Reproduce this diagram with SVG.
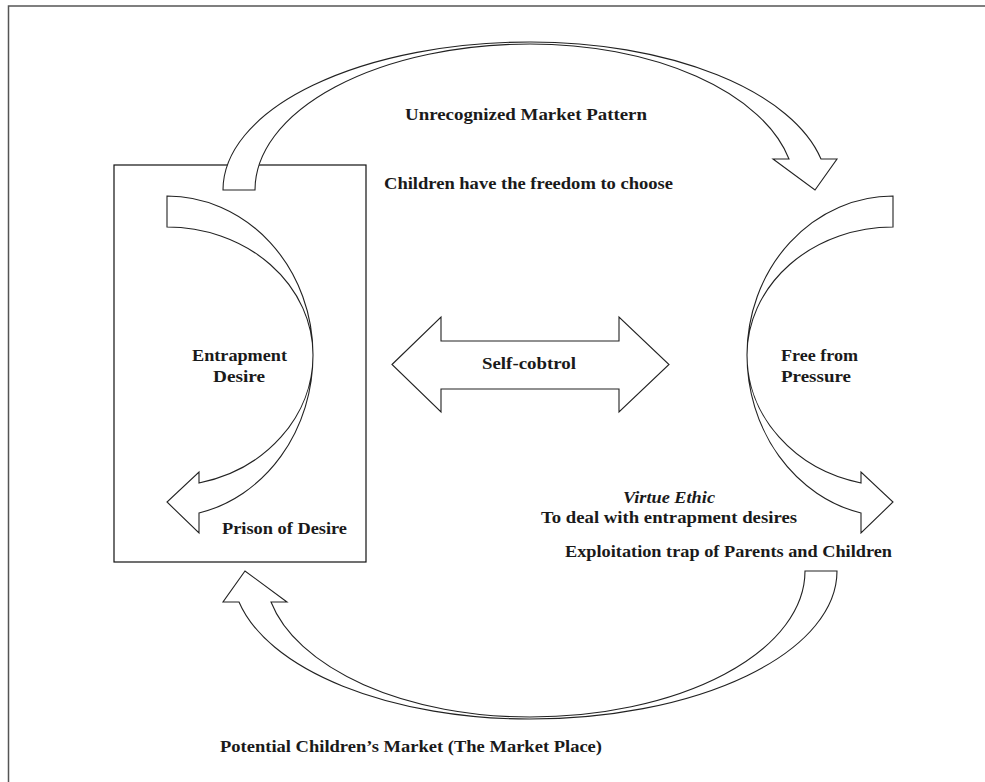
<svg xmlns="http://www.w3.org/2000/svg" width="985" height="782" viewBox="0 0 985 782">
  <style>
    .shape { fill: #ffffff; stroke: #222222; stroke-width: 1.1; stroke-linejoin: miter; }
    .frame { fill: none; stroke: #555555; stroke-width: 1.5; }
    .box { fill: none; stroke: #111111; stroke-width: 1.2; }
    .lbl { font-family: "Liberation Serif", "DejaVu Serif", serif; font-weight: bold; font-size: 17px; fill: #1a1a1a; }
    .it { font-style: italic; }
  </style>
  <rect x="0" y="0" width="985" height="782" fill="#ffffff"/>
  <g id="frame">
    <path class="frame" d="M8.5,790 L8.5,6 L990,6"/>
  </g>
  <g id="prison-box">
    <rect class="box" x="114" y="165" width="252" height="397"/>
  </g>
  <g id="connectors">
    <path id="unrecognized-arrow" class="shape" d="M223,190 A307,148 0 0 1 530,42 A297,148 0 0 1 821,159 L837,159 L815,190 L773,159 L789,159 A265,146 0 0 0 530,44 A275,146 0 0 0 255,190 Z"/>
    <path id="market-arrow" class="shape" transform="rotate(180 530 380.5)" d="M223,190 A307,148 0 0 1 530,42 A297,148 0 0 1 821,159 L837,159 L815,190 L773,159 L789,159 A265,146 0 0 0 530,44 A275,146 0 0 0 255,190 Z"/>
    <path id="entrapment-arrow" class="shape" d="M167,196 A146,159 0 0 1 313,355 A146,162 0 0 1 199,513 L199,533 L167,502 L199,472 L199,483 A146,131 0 0 0 313,355 A146,128 0 0 0 167,227 Z"/>
    <path id="pressure-arrow" class="shape" transform="matrix(-1 0 0 1 1060 0)" d="M167,196 A146,159 0 0 1 313,355 A146,162 0 0 1 199,513 L199,533 L167,502 L199,472 L199,483 A146,131 0 0 0 313,355 A146,128 0 0 0 167,227 Z"/>
  </g>
  <g id="self-control">
    <polygon class="shape" points="392,364.5 441,317 441,341 619,341 619,317 669,364.5 619,412 619,389 441,389 441,412"/>
    <text class="lbl" x="482" y="369" textLength="94" lengthAdjust="spacingAndGlyphs">Self-cobtrol</text>
  </g>
  <g id="unrecognized">
    <text class="lbl" x="405" y="120" textLength="242" lengthAdjust="spacingAndGlyphs">Unrecognized Market Pattern</text>
  </g>
  <g id="freedom">
    <text class="lbl" x="384" y="189" textLength="289" lengthAdjust="spacingAndGlyphs">Children have the freedom to choose</text>
  </g>
  <g id="entrapment">
    <text class="lbl" x="192" y="361" textLength="95" lengthAdjust="spacingAndGlyphs">Entrapment</text>
    <text class="lbl" x="213" y="382" textLength="52" lengthAdjust="spacingAndGlyphs">Desire</text>
  </g>
  <g id="prison">
    <text class="lbl" x="222" y="534" textLength="125" lengthAdjust="spacingAndGlyphs">Prison of Desire</text>
  </g>
  <g id="free-pressure">
    <text class="lbl" x="781" y="361" textLength="77" lengthAdjust="spacingAndGlyphs">Free from</text>
    <text class="lbl" x="781" y="382" textLength="70" lengthAdjust="spacingAndGlyphs">Pressure</text>
  </g>
  <g id="virtue">
    <text class="lbl it" x="623" y="503" textLength="92" lengthAdjust="spacingAndGlyphs">Virtue Ethic</text>
    <text class="lbl" x="541" y="523" textLength="256" lengthAdjust="spacingAndGlyphs">To deal with entrapment desires</text>
  </g>
  <g id="exploitation">
    <text class="lbl" x="565" y="557" textLength="327" lengthAdjust="spacingAndGlyphs">Exploitation trap of Parents and Children</text>
  </g>
  <g id="market-place">
    <text class="lbl" x="220" y="752" textLength="382" lengthAdjust="spacingAndGlyphs">Potential Children’s Market (The Market Place)</text>
  </g>
</svg>
